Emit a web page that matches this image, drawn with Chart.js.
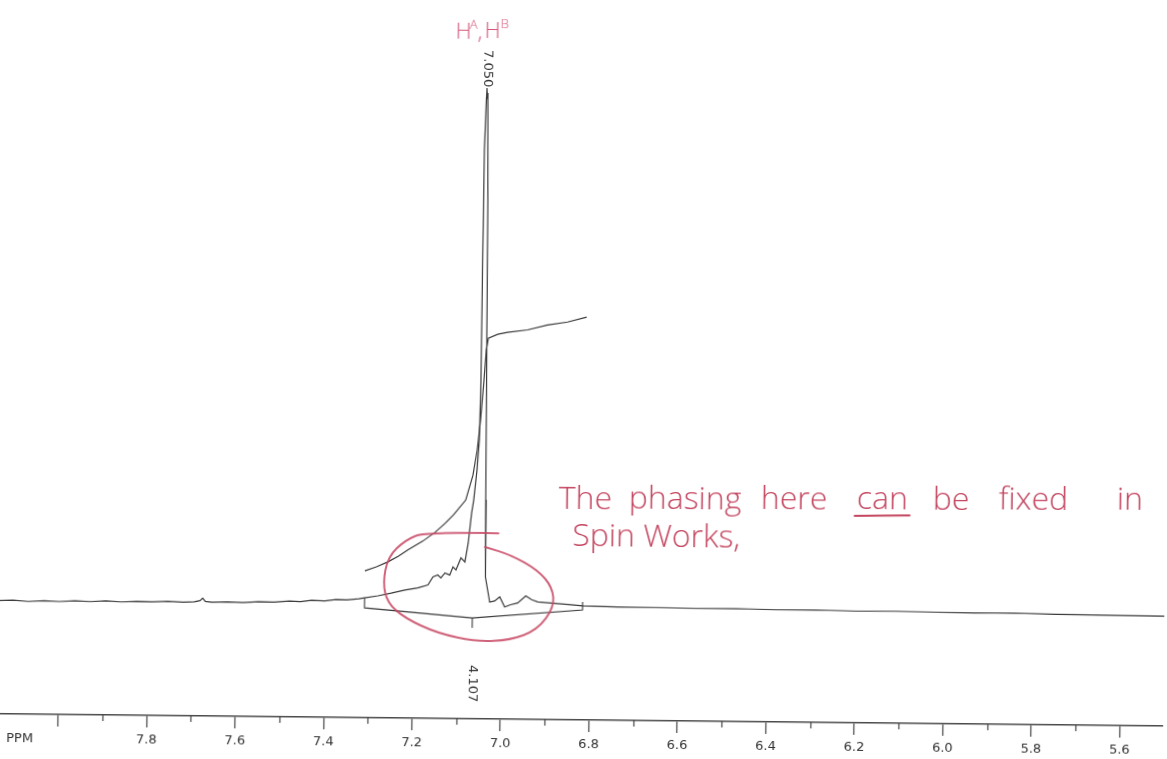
<!DOCTYPE html>
<html>
<head>
<meta charset="utf-8">
<script src="https://cdn.jsdelivr.net/npm/chart.js@4.4.1/dist/chart.umd.min.js"></script>
<style>
    html, body { margin: 0; padding: 0; background: #fff; overflow: hidden; }
    #wrap { width: 1167px; height: 759px; transform: rotate(0.6deg); transform-origin: 50% 50%; }
</style>
</head>
<body>
<div id="wrap"><canvas id="nmrChart"></canvas></div>
<script>
// spectrum trace (ppm, relative intensity, tallest peak = 100)
const spectrumPpm = [8.140, 8.105, 8.070, 8.035, 8.000, 7.965, 7.930, 7.895, 7.860, 7.825, 7.790, 7.755, 7.720, 7.695,
    7.682, 7.676, 7.670, 7.655, 7.620, 7.585, 7.550, 7.515, 7.480, 7.455, 7.430, 7.400, 7.375, 7.350, 7.323, 7.310,
    7.280, 7.250, 7.219, 7.190, 7.167, 7.156, 7.145, 7.138, 7.129, 7.118, 7.111, 7.104, 7.093, 7.084, 7.077, 7.070,
    7.0656, 7.0588, 7.0543, 7.0520, 7.0509, 7.0497, 7.0463, 7.0452, 7.0430, 7.0407, 7.0396, 7.0384, 7.0373, 7.0271,
    7.0160, 7.0045, 6.9932, 6.9800, 6.9638, 6.9457, 6.9320, 6.9186, 6.8892, 6.8500, 6.8168, 6.7377, 6.650, 6.560,
    6.470, 6.380, 6.290, 6.200, 6.110, 6.020, 5.930, 5.840, 5.750, 5.660, 5.570, 5.501];
const spectrumIntensity = [0.05, 0.15, -0.05, 0.10, 0.00, 0.15, 0.05, 0.20, 0.05, 0.15, 0.10, 0.25, 0.10, 0.20,
    0.45, 0.95, 0.30, 0.15, 0.25, 0.15, 0.35, 0.30, 0.55, 0.45, 0.75, 0.65, 0.95, 0.90, 1.15, 1.33,
    1.75, 2.30, 2.96, 3.40, 3.98, 5.56, 5.95, 5.38, 6.35, 5.96, 7.54, 6.96, 9.32, 8.54, 12.24, 18.1,
    20.6, 26.5, 32.3, 44.0, 69.4, 88.9, 99.2, 100, 98.6, 79.1, 49.9, 20.7, 5.65, 0.78,
    1.0, 1.79, -0.16, 0.3, 0.66, 2.03, 1.3, 0.9, 0.72, 0.45, 0.2, 0.08, 0.05, -0.05,
    0.0, -0.15, -0.1, -0.25, -0.2, -0.3, -0.35, -0.3, -0.45, -0.5, -0.55, -0.6];

// integral curve over the multiplet
const integralPpm = [7.310, 7.284, 7.258, 7.235, 7.2125, 7.180, 7.1515, 7.130, 7.1108, 7.0837, 7.0678, 7.0588,
    7.0520, 7.0452, 7.0407, 7.0362, 7.015, 6.9932, 6.9480, 6.9028, 6.8576, 6.8146];
const integralValues = [6.6, 7.4, 8.4, 9.5, 10.8, 12.5, 14.3, 16.0, 17.7, 20.6, 25.5, 30.4,
    36.2, 44.0, 49.9, 52.2, 53.0, 53.4, 53.9, 54.9, 55.5, 56.5];

// integration bracket under the baseline
const bracketPpm = [7.310, 7.310, 7.066, 6.817, 6.817];
const bracketValues = [1.33, -0.62, -2.36, -0.58, 0.97];
const bracketTickPpm = [7.066, 7.066];
const bracketTickValues = [-2.36, -4.3];

const peakText = '7.050';
const integralText = '4.107';

// axis ticks
const tickValues = [8.0, 7.9, 7.8, 7.7, 7.6, 7.5, 7.4, 7.3, 7.2, 7.1, 7.0, 6.9, 6.8, 6.7, 6.6, 6.5, 6.4, 6.3,
    6.2, 6.1, 6.0, 5.9, 5.8, 5.7, 5.6];
const tickLabels = ['', '', '7.8', '', '7.6', '', '7.4', '', '7.2', '', '7.0', '', '6.8', '', '6.6', '', '6.4', '',
    '6.2', '', '6.0', '', '5.8', '', '5.6'];
const axisMin = 5.501;
const axisMax = 8.1395;

function toPoints(xs, ys) {
    return xs.map((x, i) => ({ x: x, y: ys[i] }));
}

function isMajor(value) {
    return Math.round(value * 10) % 2 === 0;
}

// red ellipse drawn by hand, in (ppm, intensity)
const circlePath = [[7.009, 14.2], [7.174, 14.3], [7.219, 12.7], [7.258, 9.4], [7.269, 4.3], [7.258, 0.4],
    [7.219, -2.5], [7.145, -5.4], [7.054, -7.0], [6.980, -6.6], [6.919, -4.6], [6.881, -0.06], [6.886, 3.8],
    [6.919, 7.1], [6.980, 10.0], [7.039, 11.5]];

const decorations = {
    id: 'decorations',
    afterDraw(chart) {
        const ctx = chart.ctx;
        const xs = chart.scales.x;
        const ys = chart.scales.y;
        const bottom = chart.chartArea.bottom;

        // minor ticks
        ctx.save();
        ctx.strokeStyle = '#444';
        ctx.lineWidth = 1.2;
        tickValues.forEach(v => {
            if (!isMajor(v)) {
                const px = Math.round(xs.getPixelForValue(v)) + 0.5;
                ctx.beginPath();
                ctx.moveTo(px, bottom);
                ctx.lineTo(px, bottom + 6);
                ctx.stroke();
            }
        });

        ctx.fillStyle = '#333';
        ctx.font = '13px "DejaVu Sans", Verdana, sans-serif';
        ctx.textBaseline = 'middle';
        ctx.fillText('PPM', 10, 745);

        // peak label + leader
        const apex = spectrumIntensity.indexOf(Math.max(...spectrumIntensity));
        const peakX = xs.getPixelForValue(spectrumPpm[apex]);
        const peakY = ys.getPixelForValue(spectrumIntensity[apex]);
        ctx.beginPath();
        ctx.moveTo(peakX, 89);
        ctx.lineTo(peakX, peakY + 4);
        ctx.stroke();
        ctx.save();
        ctx.translate(peakX, 51);
        ctx.rotate(Math.PI / 2);
        ctx.textAlign = 'left';
        ctx.fillText(peakText, 0, 0);
        ctx.restore();

        // integral value
        const intX = xs.getPixelForValue(bracketTickPpm[0]);
        ctx.save();
        ctx.translate(intX + 1, 666);
        ctx.rotate(Math.PI / 2);
        ctx.textAlign = 'left';
        ctx.fillText(integralText, 0, 0);
        ctx.restore();
        ctx.restore();

        // red pen marks
        ctx.save();
        const pts = circlePath.map(p => [xs.getPixelForValue(p[0]), ys.getPixelForValue(p[1])]);
        ctx.strokeStyle = 'rgba(200, 72, 100, 0.85)';
        ctx.lineWidth = 2;
        ctx.lineCap = 'round';
        ctx.beginPath();
        ctx.moveTo(pts[0][0], pts[0][1]);
        for (let i = 1; i < pts.length - 1; i++) {
            const mx = (pts[i][0] + pts[i + 1][0]) / 2;
            const my = (pts[i][1] + pts[i + 1][1]) / 2;
            ctx.quadraticCurveTo(pts[i][0], pts[i][1], mx, my);
        }
        ctx.lineTo(pts[pts.length - 1][0], pts[pts.length - 1][1]);
        ctx.stroke();

        ctx.fillStyle = 'rgb(214, 86, 122)';
        ctx.font = '300 22px "Open Sans", sans-serif';
        ctx.textBaseline = 'alphabetic';
        ctx.fillText('H', 452, 40);
        ctx.fillText(',', 474, 40);
        ctx.fillText('H', 481, 39);
        ctx.font = '300 13px "Open Sans", sans-serif';
        ctx.fillText('A', 466, 30);
        ctx.fillText('B', 497, 29);

        ctx.fillStyle = 'rgb(196, 70, 96)';
        ctx.font = '300 32px "Open Sans", sans-serif';
        const words = [['The', 560, 509], ['phasing', 630, 508], ['here', 762, 507], ['can', 858, 506],
            ['be', 934, 506], ['fixed', 1000, 505], ['in', 1118, 504]];
        words.forEach(w => ctx.fillText(w[0], w[1], w[2]));
        const canW = ctx.measureText('can').width;
        ctx.fillText('Spin Works,', 574, 546);
        ctx.strokeStyle = 'rgb(196, 70, 96)';
        ctx.lineWidth = 1.8;
        ctx.beginPath();
        ctx.moveTo(856, 513);
        ctx.lineTo(858 + canW + 2, 512);
        ctx.stroke();
        ctx.restore();
    }
};

document.addEventListener('DOMContentLoaded', function() {
    const ctx = document.getElementById('nmrChart').getContext('2d');
    const lineStyle = { borderColor: '#3a3a3a', borderWidth: 1.2, pointRadius: 0, tension: 0, fill: false };

    new Chart(ctx, {
        type: 'line',
        data: {
            datasets: [
                Object.assign({ label: 'spectrum', data: toPoints(spectrumPpm, spectrumIntensity) }, lineStyle),
                Object.assign({ label: 'integral', data: toPoints(integralPpm, integralValues) }, lineStyle),
                Object.assign({ label: 'bracket', data: toPoints(bracketPpm, bracketValues) }, lineStyle, { borderWidth: 1.1 }),
                Object.assign({ label: 'bracketTick', data: toPoints(bracketTickPpm, bracketTickValues) }, lineStyle, { borderWidth: 1.1 })
            ]
        },
        options: {
            responsive: true,
            maintainAspectRatio: false,
            animation: false,
            events: [],
            layout: { padding: 0, autoPadding: false },
            plugins: { legend: { display: false }, tooltip: { enabled: false } },
            scales: {
                x: {
                    type: 'linear',
                    reverse: true,
                    min: axisMin,
                    max: axisMax,
                    border: { display: true, color: '#4a4a4a', width: 1.5 },
                    grid: {
                        drawOnChartArea: false,
                        drawTicks: true,
                        tickLength: 12,
                        tickWidth: 1.2,
                        tickColor: c => (c.tick && isMajor(c.tick.value)) ? '#444' : 'rgba(0,0,0,0)'
                    },
                    afterBuildTicks: axis => { axis.ticks = tickValues.map(v => ({ value: v })); },
                    afterFit: axis => { axis.height = 39; },
                    ticks: {
                        autoSkip: false,
                        maxRotation: 0,
                        padding: 5,
                        color: '#333',
                        font: { family: '"DejaVu Sans", Verdana, sans-serif', size: 13 },
                        callback: (value, index) => tickLabels[index]
                    }
                },
                y: { display: false, min: -22.03, max: 118.32 }
            }
        },
        plugins: [decorations]
    });
});
</script>
</body>
</html>
